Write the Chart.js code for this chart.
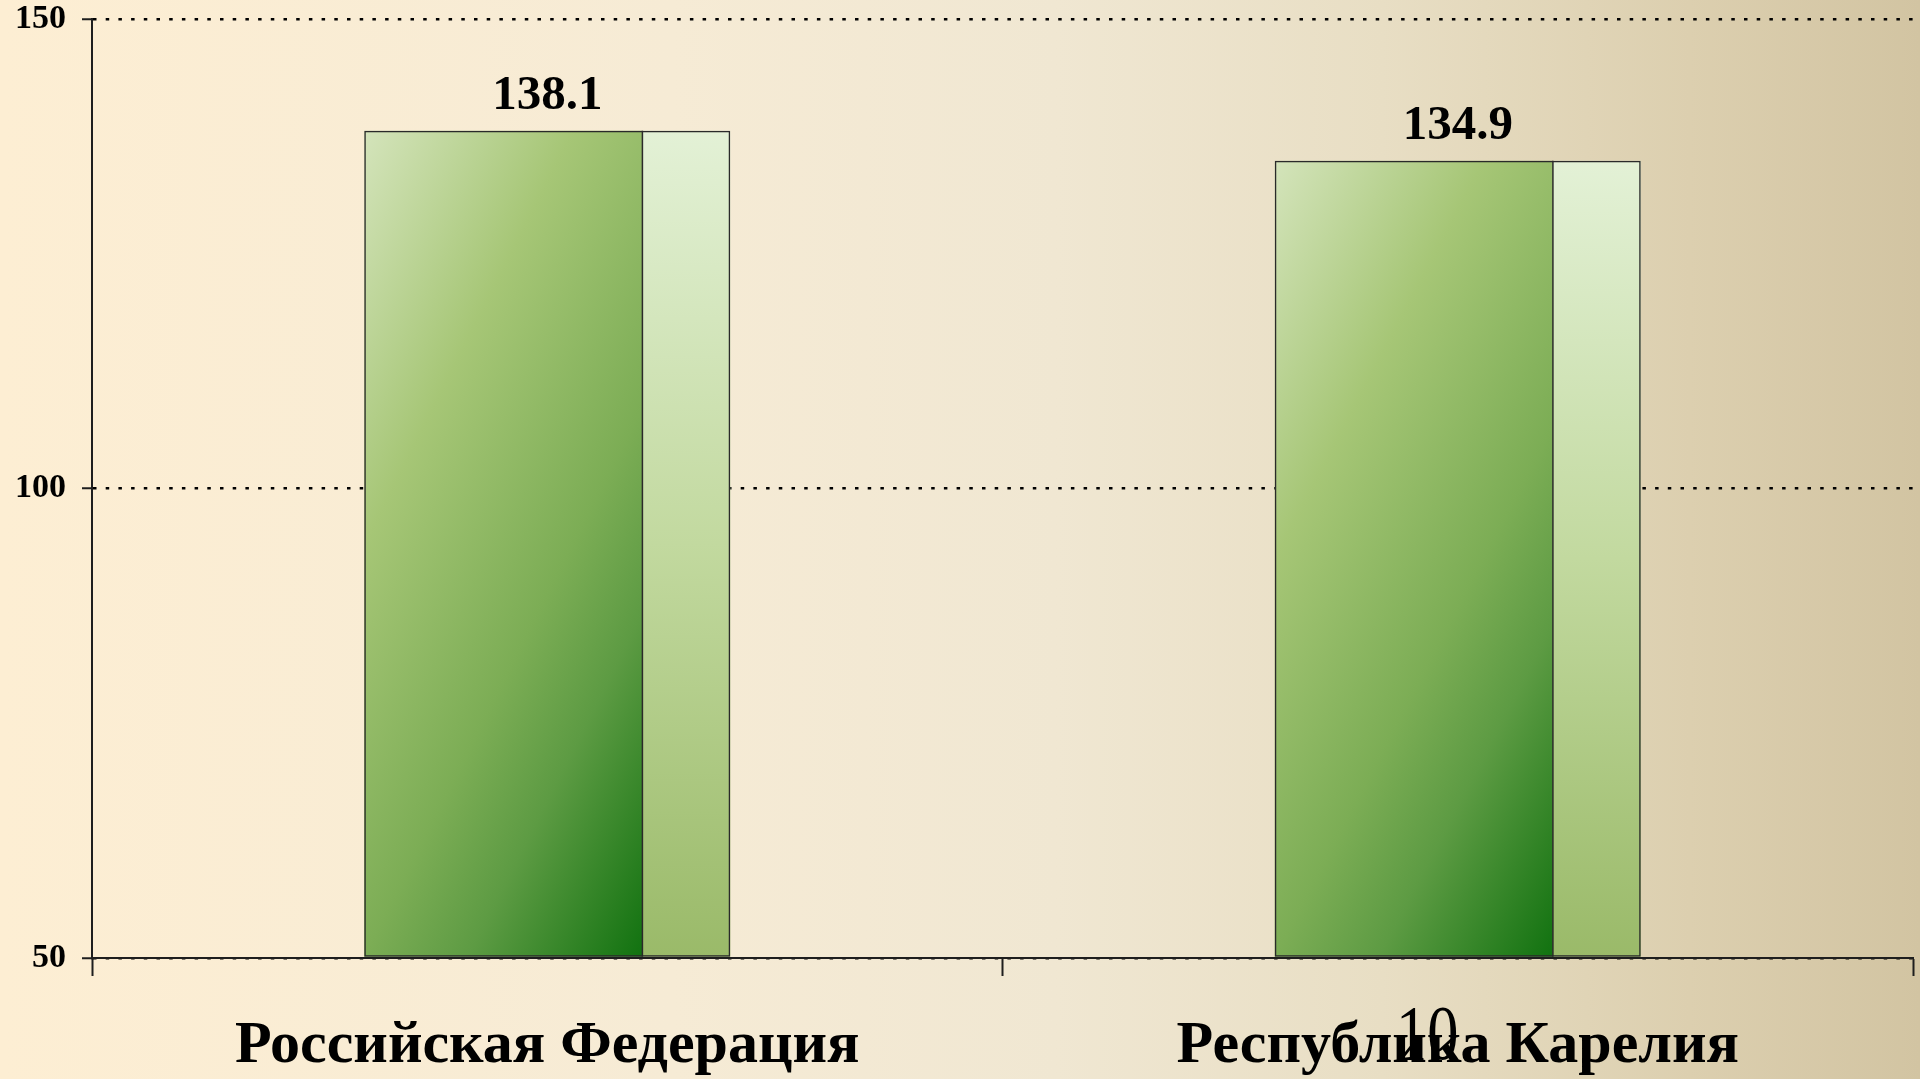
<!DOCTYPE html>
<html>
<head>
<meta charset="utf-8">
<script src="https://cdn.jsdelivr.net/npm/chart.js@4.4.1/dist/chart.umd.min.js"></script>
<style>
  html, body { margin: 0; padding: 0; }
  body {
    width: 1920px; height: 1079px; overflow: hidden; position: relative;
    background: linear-gradient(to right, #fdeed3 0%, #f6ebd5 35%, #f0e7d2 55%, #e8dec4 72%, #dccfaf 88%, #d2c4a2 100%);
  }
  #chart { position: absolute; left: 0; top: 0; }
  #slideNo {
    position: absolute; left: 1396px; top: 994px;
    font: 78px "Liberation Serif", serif; line-height: 78px;
    transform: scaleX(0.8); transform-origin: left top; color: #000;
  }
</style>
</head>
<body>
<canvas id="chart" width="1920" height="1079"></canvas>
<div id="slideNo">10</div>
<script>
const regions = ['Российская Федерация', 'Республика Карелия']
const indexValues = [138.1, 134.9]
const yTicks = [50, 100, 150]

const serif = '"Liberation Serif", "Times New Roman", serif'

// front face + lighter side face, like the old 3D office bars
const barFaces = {
  id: 'barFaces',
  beforeDatasetsDraw(chart) {
    const ctx = chart.ctx
    chart.getDatasetMeta(0).data.forEach((bar) => {
      const left = bar.x - bar.width / 2
      const top = bar.y
      const h = bar.base - bar.y
      const frontW = bar.width * 0.76
      const sideW = bar.width - frontW

      ctx.save()
      ctx.translate(left, top)
      ctx.scale(frontW, h)
      const g = ctx.createLinearGradient(0, 0, 0.769, 1.154)
      g.addColorStop(0, '#d4e4bb')
      g.addColorStop(0.3, '#a6c676')
      g.addColorStop(0.6, '#7cad55')
      g.addColorStop(0.75, '#5d9b43')
      g.addColorStop(1, '#117210')
      ctx.fillStyle = g
      ctx.fillRect(0, 0, 1, 1)
      ctx.restore()

      const s = ctx.createLinearGradient(0, top, 0, bar.base)
      s.addColorStop(0, '#e3f1d6')
      s.addColorStop(0.5, '#c2d99f')
      s.addColorStop(1, '#9aba69')
      ctx.fillStyle = s
      ctx.fillRect(left + frontW, top, sideW, h)

      ctx.strokeStyle = '#2a2a2a'
      ctx.lineWidth = 1.5
      ctx.beginPath()
      ctx.moveTo(left + frontW, top)
      ctx.lineTo(left + frontW, bar.base)
      ctx.stroke()
    })
  },
  afterDatasetsDraw(chart) {
    const ctx = chart.ctx
    ctx.save()
    ctx.font = 'bold 49px ' + serif
    ctx.fillStyle = '#000'
    ctx.textAlign = 'center'
    ctx.textBaseline = 'alphabetic'
    chart.getDatasetMeta(0).data.forEach((bar, i) => {
      ctx.fillText(indexValues[i].toFixed(1), bar.x, bar.y - 22)
    })
    ctx.restore()
  }
}

const chart = new Chart('chart', {
  type: 'bar',
  data: {
    labels: regions,
    datasets: [{
      data: indexValues,
      base: 50,
      backgroundColor: 'rgba(0,0,0,0)',
      borderColor: '#2a2a2a',
      borderWidth: 1.5,
      borderSkipped: false,
      categoryPercentage: 1,
      barPercentage: 0.402
    }]
  },
  options: {
    responsive: false,
    devicePixelRatio: 1,
    animation: false,
    layout: { padding: { top: 19, right: 7, left: 0, bottom: 0 } },
    plugins: { legend: { display: false }, tooltip: { enabled: false } },
    scales: {
      x: {
        offset: true,
        grid: {
          offset: true,
          drawOnChartArea: false,
          tickLength: 18,
          tickColor: '#1e1e1e',
          tickWidth: 2
        },
        border: { color: '#1e1e1e', width: 2 },
        ticks: {
          color: '#000',
          padding: 34,
          maxRotation: 0,
          font: { family: serif, size: 60, weight: 'bold' }
        },
        afterFit(scale) { scale.height = 121 }
      },
      y: {
        min: 50,
        max: 150,
        afterBuildTicks(scale) { scale.ticks = yTicks.map(v => ({ value: v })) },
        grid: {
          color: '#000',
          lineWidth: 2.5,
          tickLength: 10,
          tickColor: '#1e1e1e',
          tickWidth: 2,
          tickBorderDash: []
        },
        border: { color: '#1e1e1e', width: 2, dash: [3.5, 9.2] },
        ticks: {
          color: '#000',
          padding: 16,
          font: { family: serif, size: 34, weight: 'bold' }
        },
        afterFit(scale) {
          scale.width = 92
          scale.paddingTop = 0
          scale.paddingBottom = 0
        }
      }
    }
  },
  plugins: [barFaces]
})
</script>
</body>
</html>
